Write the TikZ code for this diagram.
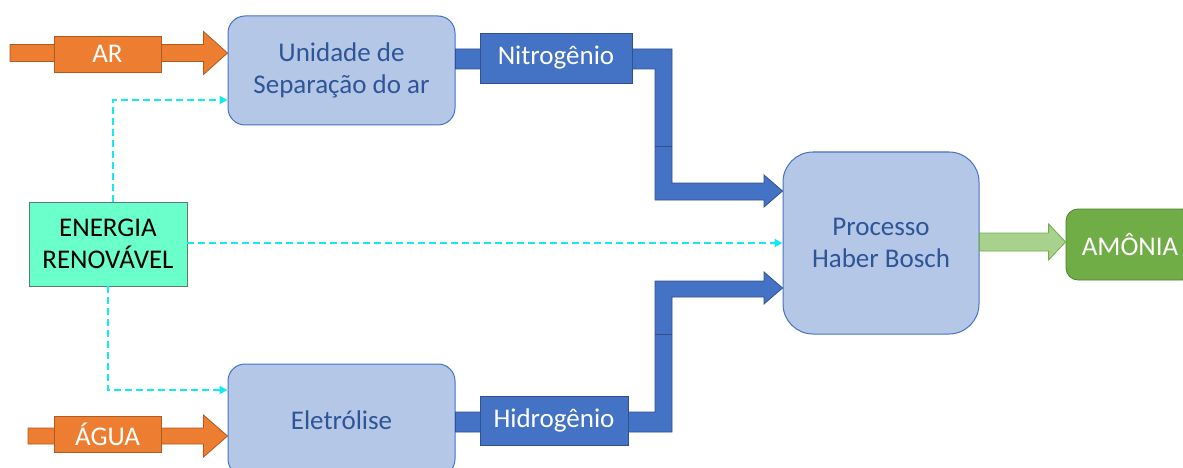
\documentclass[tikz,border=0pt]{standalone}
\usepackage{fontspec}
\setmainfont{Carlito}
\usetikzlibrary{calc,arrows.meta}

\definecolor{orng}{HTML}{ED7D31}
\definecolor{orngdk}{HTML}{AE5A21}
\definecolor{flowblue}{HTML}{4472C4}
\definecolor{flowedge}{HTML}{2F528F}
\definecolor{boxfill}{HTML}{B4C7E7}
\definecolor{boxedge}{HTML}{4472C4}
\definecolor{boxtext}{HTML}{2F5597}
\definecolor{engfill}{HTML}{6BFFCC}
\definecolor{engedge}{HTML}{5E7A6E}
\definecolor{dashcol}{HTML}{12EAF2}
\definecolor{lgreen}{HTML}{A9D18E}
\definecolor{mgreen}{HTML}{70AD47}
\definecolor{dgreen}{HTML}{507E32}

\newcommand\lblfont{\fontsize{27}{32}\selectfont}

% horizontal block arrow: style, start, end, shaft half width, head half width, head length
\newcommand\blockarrow[6]{%
  \path[#1] let \p1=(#2), \p2=(#3) in
    (\x1,\y1+#4) -- (\x2-#6,\y1+#4) -- (\x2-#6,\y1+#5) -- (\x2,\y1)
    -- (\x2-#6,\y1-#5) -- (\x2-#6,\y1-#4) -- (\x1,\y1-#4) -- cycle;}

\begin{document}
\begin{tikzpicture}[x=1pt,y=-1pt,
  proc/.style={draw=boxedge, fill=boxfill, line width=1pt, rounded corners=17pt,
    text=boxtext, align=center, font=\lblfont, inner sep=0pt,
    minimum width=227pt, minimum height=109pt},
  energy/.style={draw=engedge, fill=engfill, line width=0.8pt, align=center,
    font=\lblfont, inner sep=0pt, minimum width=158pt, minimum height=84pt},
  product/.style={draw=dgreen, fill=mgreen, line width=0.8pt, rounded corners=12pt,
    text=white, font=\lblfont, inner sep=0pt, minimum width=128pt, minimum height=71pt},
  orangetag/.style={draw=orngdk, fill=orng, line width=0.8pt, text=white,
    font=\lblfont, inner sep=0pt, minimum width=107pt, minimum height=36pt},
  bluetag/.style={draw=flowedge, fill=flowblue, line width=0.8pt, text=white,
    font=\lblfont, inner sep=0pt, minimum height=50pt},
  orangeflow/.style={draw=orngdk, fill=orng, line width=0.8pt},
  blueflow/.style={draw=flowedge, fill=flowblue, line width=0.8pt, line join=miter},
  greenflow/.style={draw=mgreen, fill=lgreen, line width=0.8pt},
  power/.style={draw=dashcol, line width=2pt, dash pattern=on 7pt off 4pt,
    -{Triangle[length=8pt,width=8pt]}}]

\path[use as bounding box, clip] (0,0) rectangle (1183,468);

% process blocks
\node[proc] (sep) at (341.5,70.5) {Unidade de\\Separação do ar};
\node[proc, minimum height=112pt] (ele) at (341.5,420) {Eletrólise};
\node[proc, minimum width=196pt, minimum height=182pt, rounded corners=30pt]
  (hb) at (881,243) {Processo\\Haber Bosch};
\node[energy] (en) at (108,244) {ENERGIA\\RENOVÁVEL};
\node[product] (amm) at (1130,244.5) {AMÔNIA};

% inputs
\coordinate (arin) at (10,53);
\coordinate (aguain) at (28,436);
\blockarrow{orangeflow}{arin}{sep.west |- arin}{8.5pt}{21.5pt}{24pt}
\blockarrow{orangeflow}{aguain}{ele.west |- aguain}{8pt}{21pt}{24pt}

% nitrogen line
\path[blueflow] (sep.east |- 0,49) -- (672,49) -- (672,183) -- (764,183) -- (764,175)
  -- (hb.west |- 0,191) -- (764,207) -- (764,200) -- (655,200) -- (655,69)
  -- (sep.east |- 0,69) -- cycle;
\draw[flowedge, line width=0.8pt] (655,146) -- (672,146);

% hydrogen line
\path[blueflow] (ele.east |- 0,412) -- (655,412) -- (655,281) -- (764,281) -- (764,272)
  -- (hb.west |- 0,288) -- (764,304) -- (764,297) -- (672,297) -- (672,432)
  -- (ele.east |- 0,432) -- cycle;
\draw[flowedge, line width=0.8pt] (655,334) -- (672,334);

% product
\coordinate (hbout) at (hb.east |- 0,242);
\blockarrow{greenflow}{hbout}{amm.west |- hbout}{9pt}{18pt}{17pt}

% flow labels
\node[orangetag] (ar) at (107.5,54) {AR};
\node[orangetag] (agua) at (107.5,434) {ÁGUA};
\node[bluetag, minimum width=152pt] (nit) at (556,58) {Nitrogênio};
\node[bluetag, minimum width=148pt, minimum height=49pt] (hid) at (554,420.5) {Hidrogênio};

% energy supply
\draw[power] (en.north -| 113,0) |- (sep.west |- 0,100);
\draw[power] (en.east |- 0,243) -- (hb.west |- 0,243);
\draw[power] (en.south -| 108,0) |- (ele.west |- 0,390);

\end{tikzpicture}
\end{document}
